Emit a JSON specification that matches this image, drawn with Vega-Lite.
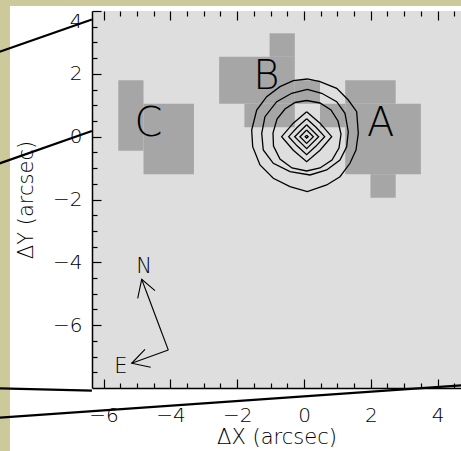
{
  "$schema": "https://vega.github.io/schema/vega-lite/v6.json",
  "width": 369,
  "height": 377,
  "autosize": {"type": "none"},
  "padding": {"left": 92, "top": 11, "right": 0, "bottom": 63},
  "background": "#ccc99b",
  "config": {
    "view": {"stroke": null},
    "axis": {
      "grid": false,
      "domainColor": "#000000",
      "domainWidth": 1.5,
      "tickColor": "#000000",
      "tickWidth": 1.2,
      "labelFont": "DejaVu Sans",
      "labelFontSize": 20,
      "labelFontWeight": 200,
      "labelColor": "#000000",
      "labelOverlap": false,
      "labelBound": false,
      "titleFont": "DejaVu Sans",
      "titleFontSize": 21,
      "titleFontWeight": 200,
      "titleColor": "#000000"
    }
  },
  "datasets": {
    "panel": [{"x1": -8.802, "x2": 4.9, "y1": 4.16, "y2": -10.2}],
    "plot": [{"x1": -6.347, "x2": 4.701, "y1": -8, "y2": 4}],
    "blocks": [
      {"id": "C1", "x1": -5.56, "x2": -4.805, "y1": 1.794, "y2": -0.45},
      {"id": "C2", "x1": -4.805, "x2": -3.295, "y1": 1.046, "y2": -1.198},
      {"id": "B1", "x1": -1.03, "x2": -0.275, "y1": 3.29, "y2": 2.542},
      {"id": "B2", "x1": -2.54, "x2": -0.275, "y1": 2.542, "y2": 1.046},
      {"id": "B3", "x1": -0.275, "x2": 0.48, "y1": 1.794, "y2": 1.046},
      {"id": "B4", "x1": -1.785, "x2": -0.275, "y1": 1.046, "y2": 0.298},
      {"id": "AB", "x1": 0.48, "x2": 1.235, "y1": 1.046, "y2": 0.298},
      {"id": "A1", "x1": 1.235, "x2": 2.745, "y1": 1.794, "y2": 1.046},
      {"id": "A2", "x1": 1.235, "x2": 3.5, "y1": 1.046, "y2": -1.198},
      {"id": "A3", "x1": 1.99, "x2": 2.745, "y1": -1.198, "y2": -1.946}
    ],
    "contours": [
      {"c": 1, "i": 0, "x": 0.10, "y": 1.836},
      {"c": 1, "i": 1, "x": 0.479, "y": 1.750},
      {"c": 1, "i": 2, "x": 0.979, "y": 1.540},
      {"c": 1, "i": 3, "x": 1.326, "y": 1.167},
      {"c": 1, "i": 4, "x": 1.578, "y": 0.795},
      {"c": 1, "i": 5, "x": 1.626, "y": 0.108},
      {"c": 1, "i": 6, "x": 1.557, "y": -0.424},
      {"c": 1, "i": 7, "x": 1.377, "y": -0.847},
      {"c": 1, "i": 8, "x": 1.078, "y": -1.274},
      {"c": 1, "i": 9, "x": 0.680, "y": -1.538},
      {"c": 1, "i": 10, "x": 0.099, "y": -1.751},
      {"c": 1, "i": 11, "x": -0.419, "y": -1.592},
      {"c": 1, "i": 12, "x": -0.919, "y": -1.325},
      {"c": 1, "i": 13, "x": -1.317, "y": -0.901},
      {"c": 1, "i": 14, "x": -1.536, "y": -0.319},
      {"c": 1, "i": 15, "x": -1.566, "y": 0.213},
      {"c": 1, "i": 16, "x": -1.416, "y": 0.849},
      {"c": 1, "i": 17, "x": -1.117, "y": 1.272},
      {"c": 1, "i": 18, "x": -0.719, "y": 1.591},
      {"c": 1, "i": 19, "x": -0.320, "y": 1.782},
      {"c": 1, "i": 20, "x": 0.10, "y": 1.836},
      {"c": 2, "i": 0, "x": 0.10, "y": 1.508},
      {"c": 2, "i": 1, "x": 0.530, "y": 1.381},
      {"c": 2, "i": 2, "x": 0.979, "y": 1.113},
      {"c": 2, "i": 3, "x": 1.228, "y": 0.744},
      {"c": 2, "i": 4, "x": 1.326, "y": 0.158},
      {"c": 2, "i": 5, "x": 1.278, "y": -0.319},
      {"c": 2, "i": 6, "x": 1.078, "y": -0.742},
      {"c": 2, "i": 7, "x": 0.680, "y": -1.060},
      {"c": 2, "i": 8, "x": 0.180, "y": -1.220},
      {"c": 2, "i": 9, "x": -0.419, "y": -1.115},
      {"c": 2, "i": 10, "x": -0.919, "y": -0.847},
      {"c": 2, "i": 11, "x": -1.219, "y": -0.424},
      {"c": 2, "i": 12, "x": -1.266, "y": 0.108},
      {"c": 2, "i": 13, "x": -1.168, "y": 0.636},
      {"c": 2, "i": 14, "x": -0.817, "y": 1.113},
      {"c": 2, "i": 15, "x": -0.368, "y": 1.381},
      {"c": 2, "i": 16, "x": 0.10, "y": 1.508},
      {"c": 3, "i": 0, "x": 0.081, "y": 1.151},
      {"c": 3, "i": 1, "x": 0.479, "y": 1.072},
      {"c": 3, "i": 2, "x": 0.808, "y": 0.849},
      {"c": 3, "i": 3, "x": 1.018, "y": 0.499},
      {"c": 3, "i": 4, "x": 1.108, "y": 0.085},
      {"c": 3, "i": 5, "x": 1.048, "y": -0.360},
      {"c": 3, "i": 6, "x": 0.838, "y": -0.742},
      {"c": 3, "i": 7, "x": 0.479, "y": -0.997},
      {"c": 3, "i": 8, "x": 0.081, "y": -1.092},
      {"c": 3, "i": 9, "x": -0.359, "y": -0.997},
      {"c": 3, "i": 10, "x": -0.719, "y": -0.710},
      {"c": 3, "i": 11, "x": -0.913, "y": -0.297},
      {"c": 3, "i": 12, "x": -0.928, "y": 0.117},
      {"c": 3, "i": 13, "x": -0.808, "y": 0.563},
      {"c": 3, "i": 14, "x": -0.569, "y": 0.881},
      {"c": 3, "i": 15, "x": -0.269, "y": 1.088},
      {"c": 3, "i": 16, "x": 0.081, "y": 1.151},
      {"c": 4, "i": 0, "x": 0.08, "y": 0.796},
      {"c": 4, "i": 1, "x": 0.48, "y": 0.43},
      {"c": 4, "i": 2, "x": 0.829, "y": 0.0},
      {"c": 4, "i": 3, "x": 0.48, "y": -0.43},
      {"c": 4, "i": 4, "x": 0.08, "y": -0.796},
      {"c": 4, "i": 5, "x": -0.32, "y": -0.43},
      {"c": 4, "i": 6, "x": -0.669, "y": 0.0},
      {"c": 4, "i": 7, "x": -0.32, "y": 0.43},
      {"c": 4, "i": 8, "x": 0.08, "y": 0.796},
      {"c": 5, "i": 0, "x": 0.08, "y": 0.573},
      {"c": 5, "i": 1, "x": 0.36, "y": 0.30},
      {"c": 5, "i": 2, "x": 0.619, "y": 0.0},
      {"c": 5, "i": 3, "x": 0.36, "y": -0.30},
      {"c": 5, "i": 4, "x": 0.08, "y": -0.573},
      {"c": 5, "i": 5, "x": -0.20, "y": -0.30},
      {"c": 5, "i": 6, "x": -0.459, "y": 0.0},
      {"c": 5, "i": 7, "x": -0.20, "y": 0.30},
      {"c": 5, "i": 8, "x": 0.08, "y": 0.573},
      {"c": 6, "i": 0, "x": 0.08, "y": 0.382},
      {"c": 6, "i": 1, "x": 0.439, "y": 0.0},
      {"c": 6, "i": 2, "x": 0.08, "y": -0.382},
      {"c": 6, "i": 3, "x": -0.279, "y": 0.0},
      {"c": 6, "i": 4, "x": 0.08, "y": 0.382},
      {"c": 7, "i": 0, "x": 0.08, "y": 0.213},
      {"c": 7, "i": 1, "x": 0.28, "y": 0.0},
      {"c": 7, "i": 2, "x": 0.08, "y": -0.213},
      {"c": 7, "i": 3, "x": -0.12, "y": 0.0},
      {"c": 7, "i": 4, "x": 0.08, "y": 0.213},
      {"c": 8, "i": 0, "x": 0.08, "y": 0.048},
      {"c": 8, "i": 1, "x": 0.125, "y": 0.0},
      {"c": 8, "i": 2, "x": 0.08, "y": -0.048},
      {"c": 8, "i": 3, "x": 0.035, "y": 0.0},
      {"c": 8, "i": 4, "x": 0.08, "y": 0.048}
    ],
    "compass": [
      {"s": "Nshaft", "i": 0, "x": -4.063, "y": -6.789},
      {"s": "Nshaft", "i": 1, "x": -4.859, "y": -4.539},
      {"s": "Nhead", "i": 0, "x": -4.979, "y": -5.144},
      {"s": "Nhead", "i": 1, "x": -4.859, "y": -4.539},
      {"s": "Nhead", "i": 2, "x": -4.461, "y": -4.902},
      {"s": "Eshaft", "i": 0, "x": -4.063, "y": -6.789},
      {"s": "Eshaft", "i": 1, "x": -5.159, "y": -7.213},
      {"s": "Ehead", "i": 0, "x": -4.760, "y": -6.767},
      {"s": "Ehead", "i": 1, "x": -5.159, "y": -7.213},
      {"s": "Ehead", "i": 2, "x": -4.590, "y": -7.340}
    ],
    "zoomlines": [
      {"s": "L1", "i": 0, "x": -9.2, "y": 2.668},
      {"s": "L1", "i": 1, "x": -6.35, "y": 3.73},
      {"s": "L2", "i": 0, "x": -9.2, "y": -0.884},
      {"s": "L2", "i": 1, "x": -6.35, "y": 0.181},
      {"s": "L3", "i": 0, "x": -9.2, "y": -8.006},
      {"s": "L3", "i": 1, "x": -6.35, "y": -8.085},
      {"s": "L4", "i": 0, "x": -9.2, "y": -8.951},
      {"s": "L4", "i": 1, "x": 4.75, "y": -7.913}
    ],
    "sources": [
      {"label": "A", "x": 2.30, "y": 0.40},
      {"label": "B", "x": -1.13, "y": 1.91},
      {"label": "C", "x": -4.66, "y": 0.40}
    ],
    "compasslabels": [
      {"label": "N", "x": -4.785, "y": -4.164},
      {"label": "E", "x": -5.48, "y": -7.32}
    ]
  },
  "layer": [
    {
      "data": {"name": "panel"},
      "mark": {"type": "rect", "fill": "#ffffff"},
      "encoding": {
        "x": {"field": "x1", "type": "quantitative", "scale": {"domain": [-6.347, 4.701], "nice": false, "zero": false}, "axis": null},
        "x2": {"field": "x2"},
        "y": {"field": "y1", "type": "quantitative", "scale": {"domain": [-8, 4], "nice": false, "zero": false}, "axis": null},
        "y2": {"field": "y2"}
      }
    },
    {
      "data": {"name": "plot"},
      "mark": {"type": "rect", "fill": "#dedede"},
      "encoding": {
        "x": {
          "field": "x1", "type": "quantitative",
          "scale": {"domain": [-6.347, 4.701], "nice": false, "zero": false},
          "axis": {
            "orient": "bottom",
            "zindex": 2,
            "values": [-6, -5.5, -5, -4.5, -4, -3.5, -3, -2.5, -2, -1.5, -1, -0.5, 0, 0.5, 1, 1.5, 2, 2.5, 3, 3.5, 4, 4.5],
            "tickSize": {"condition": {"test": "datum.value % 2 === 0", "value": -9}, "value": -5},
            "labelExpr": "datum.value % 2 === 0 ? replace(format(datum.value, 'd'), '-', '−') : ''",
            "labelPadding": 26,
            "labelFlush": false,
            "title": "ΔX (arcsec)",
            "titlePadding": -3
          }
        },
        "x2": {"field": "x2"},
        "y": {
          "field": "y1", "type": "quantitative",
          "scale": {"domain": [-8, 4], "nice": false, "zero": false},
          "axis": {
            "orient": "left",
            "zindex": 2,
            "values": [-7.5, -7, -6.5, -6, -5.5, -5, -4.5, -4, -3.5, -3, -2.5, -2, -1.5, -1, -0.5, 0, 0.5, 1, 1.5, 2, 2.5, 3, 3.5, 4],
            "tickSize": {"condition": {"test": "datum.value % 2 === 0", "value": -9}, "value": -5},
            "labelExpr": "datum.value % 2 === 0 ? replace(format(datum.value, 'd'), '-', '−') : ''",
            "labelPadding": 19,
            "labelFlush": true,
            "title": "ΔY (arcsec)",
            "titlePadding": 16
          }
        },
        "y2": {"field": "y2"}
      }
    },
    {
      "data": {"name": "blocks"},
      "mark": {"type": "rect", "fill": "#a6a6a6"},
      "encoding": {
        "x": {"field": "x1", "type": "quantitative", "scale": {"domain": [-6.347, 4.701], "nice": false, "zero": false}, "axis": null},
        "x2": {"field": "x2"},
        "y": {"field": "y1", "type": "quantitative", "scale": {"domain": [-8, 4], "nice": false, "zero": false}, "axis": null},
        "y2": {"field": "y2"}
      }
    },
    {
      "data": {"name": "contours"},
      "mark": {"type": "line", "stroke": "#000000", "strokeWidth": 1.3, "strokeJoin": "miter"},
      "encoding": {
        "x": {
          "field": "x", "type": "quantitative",
          "scale": {"domain": [-6.347, 4.701], "nice": false, "zero": false},
          "axis": {
            "orient": "top",
            "zindex": 2,
            "values": [-6, -5.5, -5, -4.5, -4, -3.5, -3, -2.5, -2, -1.5, -1, -0.5, 0, 0.5, 1, 1.5, 2, 2.5, 3, 3.5, 4, 4.5],
            "tickSize": {"condition": {"test": "datum.value % 2 === 0", "value": -9}, "value": -5},
            "labels": false,
            "domain": false,
            "title": null
          }
        },
        "y": {"field": "y", "type": "quantitative", "scale": {"domain": [-8, 4], "nice": false, "zero": false}, "axis": null},
        "detail": {"field": "c", "type": "nominal"},
        "order": {"field": "i", "type": "quantitative"}
      }
    },
    {
      "data": {"name": "compass"},
      "mark": {"type": "line", "stroke": "#000000", "strokeWidth": 1.1},
      "encoding": {
        "x": {"field": "x", "type": "quantitative", "scale": {"domain": [-6.347, 4.701], "nice": false, "zero": false}, "axis": null},
        "y": {"field": "y", "type": "quantitative", "scale": {"domain": [-8, 4], "nice": false, "zero": false}, "axis": null},
        "detail": {"field": "s", "type": "nominal"},
        "order": {"field": "i", "type": "quantitative"}
      }
    },
    {
      "data": {"name": "zoomlines"},
      "mark": {"type": "line", "stroke": "#000000", "strokeWidth": 2.2},
      "encoding": {
        "x": {"field": "x", "type": "quantitative", "scale": {"domain": [-6.347, 4.701], "nice": false, "zero": false}, "axis": null},
        "y": {"field": "y", "type": "quantitative", "scale": {"domain": [-8, 4], "nice": false, "zero": false}, "axis": null},
        "detail": {"field": "s", "type": "nominal"},
        "order": {"field": "i", "type": "quantitative"}
      }
    },
    {
      "data": {"name": "sources"},
      "mark": {"type": "text", "font": "DejaVu Sans", "fontSize": 40, "fontWeight": 200, "fill": "#000000", "align": "center", "baseline": "middle"},
      "encoding": {
        "x": {"field": "x", "type": "quantitative", "scale": {"domain": [-6.347, 4.701], "nice": false, "zero": false}, "axis": null},
        "y": {"field": "y", "type": "quantitative", "scale": {"domain": [-8, 4], "nice": false, "zero": false}, "axis": null},
        "text": {"field": "label"}
      }
    },
    {
      "data": {"name": "compasslabels"},
      "mark": {"type": "text", "font": "DejaVu Sans", "fontSize": 21, "fontWeight": 200, "fill": "#000000", "align": "center", "baseline": "middle"},
      "encoding": {
        "x": {"field": "x", "type": "quantitative", "scale": {"domain": [-6.347, 4.701], "nice": false, "zero": false}, "axis": null},
        "y": {"field": "y", "type": "quantitative", "scale": {"domain": [-8, 4], "nice": false, "zero": false}, "axis": null},
        "text": {"field": "label"}
      }
    }
  ],
  "resolve": {"axis": {"x": "independent", "y": "independent"}}
}
